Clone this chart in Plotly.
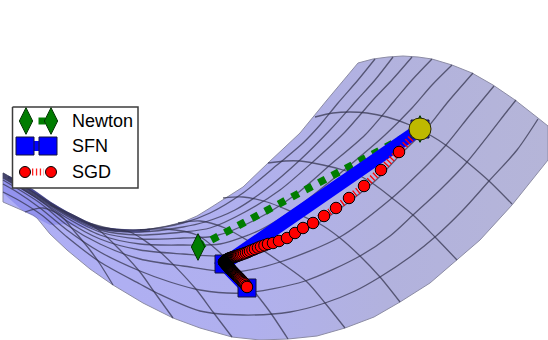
import plotly.graph_objects as go

# everything, in picture pixels
outline_x = [358, 373, 388, 403, 418, 432, 452, 472, 493, 515, 538, 548, 548, 530, 512, 480, 457, 430, 400, 374, 345, 317, 288, 260, 232, 200, 173, 143, 113, 90, 67, 50, 37, 33, 3, 3, 18, 33, 50, 67, 83, 100, 116, 133, 150, 167, 183, 197, 210, 226, 243, 268, 300, 327, 358]
outline_y = [63, 59, 57, 56, 57, 59, 65, 73, 85, 100, 118, 126, 160, 183, 205, 240, 260, 283, 302, 317, 328, 336, 339, 340, 337, 328, 318, 303, 285, 269, 250, 234, 218, 215, 202, 173, 181, 190, 202, 212, 220, 227, 229, 230, 229, 226, 222, 216, 208, 198, 187, 163, 133, 100, 63]

fold_x = [3, 18, 33, 50, 67, 83, 100, 116, 133, 110, 83, 67, 50, 23, 3, 3]
fold_y = [173, 181, 190, 202, 212, 220, 227, 229, 230, 229, 228, 224, 225, 211, 193, 173]

crease_x = [8, 33, 50, 67, 83, 100, 116, 133, 150]
crease_y = [177, 191, 203, 213, 221, 228, 230, 231, 230]

long_curves = [
    ([375, 358, 338, 320, 303, 277, 243, 210, 183, 140, 100, 67, 35, 3], [59, 80, 103, 125, 143, 165, 193, 213, 223, 230, 227.5, 213, 193, 173]),
    ([393, 375, 357, 330, 300, 265, 235, 205, 183, 140, 100, 67, 35, 3], [57, 80, 100, 130, 160, 190, 210, 222, 227, 232, 228.5, 214, 194, 174]),
    ([412, 392, 373, 345, 315, 280, 245, 210, 183, 140, 100, 67, 35, 3], [57, 80, 100, 132, 160, 190, 212, 228, 232, 235, 230, 215, 195, 175]),
    ([432, 412, 395, 365, 330, 295, 255, 215, 183, 140, 100, 67, 35, 3], [59, 80, 100, 135, 165, 195, 220, 236, 238, 239, 232, 216, 196, 176]),
    ([452, 432, 412, 385, 350, 300, 260, 220, 183, 140, 100, 67, 35, 3], [65, 85, 108, 135, 165, 205, 230, 244, 245, 244, 235, 218, 197, 177]),
    ([473, 447, 428, 400, 375, 320, 265, 220, 183, 140, 100, 67, 38, 3], [73, 103, 127, 155, 181, 222, 247, 256, 254, 250, 239, 221, 199, 178]),
    ([494, 470, 446, 420, 392, 340, 280, 235, 183, 140, 100, 67, 40, 3], [86, 115, 145, 172, 198, 237, 262, 272, 266, 259, 244, 225, 203, 180]),
    ([516, 508, 467, 440, 413, 390, 360, 305, 243, 200, 170, 140, 100, 67, 40, 17, 3], [100, 110, 162, 190, 215, 236, 256, 281, 293, 290, 282, 271, 252, 230, 208, 192, 184]),
    ([538, 517, 489, 463, 435, 410, 380, 355, 325, 290, 243, 200, 157, 140, 100, 67, 43, 20, 3], [119, 150, 181, 210, 237, 257, 277, 291, 303, 312, 315, 311, 293, 284, 262, 237, 216, 201, 192]),
]

cross_curves = [
    ([315, 333, 350, 367, 387, 410, 430, 447, 467, 489, 512], [117, 113, 112, 113, 117, 125, 135, 146, 162, 181, 204]),
    ([268, 285, 300, 323, 343, 360, 375, 392, 413, 435, 457], [163, 161, 161, 165, 170, 176, 185, 198, 215, 237, 260]),
    ([223, 243, 267, 290, 320, 340, 360, 380, 400], [198, 197, 202, 211, 224, 238, 256, 277, 302]),
    ([178, 200, 225, 250, 280, 307, 325, 345], [223, 221, 228, 242, 262, 282, 303, 328]),
    ([140, 165, 197, 217, 237, 257, 270, 288], [230, 229, 235, 250, 271, 295, 312, 339]),
    ([88, 112, 130, 160, 195, 213, 232], [223, 229, 232, 252, 288, 312, 337]),
    ([50, 75, 100, 120, 140, 155, 173], [205, 216, 231, 250, 272, 293, 318]),
    ([25, 43, 60, 75, 90, 100, 113], [212, 208, 215, 232, 250, 264, 285]),
]

newton_x = [198, 420]
newton_y = [247, 129]
sfn_x = [247, 224, 420]
sfn_y = [288, 264, 129]

sgd_arc_x = [224, 224.7, 225.4, 226, 226.7, 227.4, 228.1, 228.9, 229.7, 230.5, 231.3, 232.2, 233.1, 234, 235, 236, 237, 238.2, 239.5, 241, 242.5, 244.2, 246, 248, 250, 252.5, 255, 258, 261, 264.5, 268, 273, 279, 287, 295, 303, 313, 324, 336, 349, 364, 381, 399, 420]
sgd_arc_y = [262, 261.4, 260.8, 260.3, 259.8, 259.3, 258.9, 258.6, 258.3, 258, 257.7, 257.4, 257.1, 256.8, 256.5, 256.2, 255.9, 255.5, 255, 254.5, 254, 253.4, 252.7, 252, 251, 250, 249, 247.7, 246.5, 245.3, 244, 243, 241, 238, 233, 228, 223, 216, 208, 198, 186, 170, 152, 129]
sgd_leg_x = [224, 224.6, 225.2, 225.8, 226.4, 227, 227.6, 228.2, 228.8, 229.4, 230, 230.6, 231.2, 231.8, 232.4, 233, 233.6, 234.2, 234.8, 235.4, 236, 236.6, 237.2, 237.8, 238.4, 239, 239.7, 240.5, 241.3, 242.2, 243.1, 244.1, 245.2, 246.3, 247]
sgd_leg_y = [262, 262.7, 263.4, 264.1, 264.7, 265.4, 266, 266.7, 267.3, 268, 268.6, 269.3, 270, 270.6, 271.2, 271.9, 272.5, 273.1, 273.7, 274.3, 274.9, 275.5, 276.1, 276.7, 277.3, 277.9, 278.6, 279.4, 280.2, 281.2, 282.1, 283.2, 284.4, 285.9, 287]

legend_labels = ["Newton", "SFN", "SGD"]
legend_label_y = [121, 146, 172]
legend_box_x = [12.5, 138, 138, 12.5, 12.5]
legend_box_y = [107, 107, 188, 188, 107]


# marker fill goes from black at the elbow to full red, overlapping edges hide the rest
def fade(n, dark, ramp):
    cols = []
    for i in range(n):
        k = min(255, max(0, int(255 * (i - dark) / ramp)))
        cols.append("rgb(%d,0,0)" % k)
    return cols


fig = go.Figure()

fig.add_trace(go.Scatter(
    x=outline_x, y=outline_y, mode="lines", fill="toself",
    fillgradient=dict(type="horizontal", colorscale=[
        [0, "rgb(174,174,246)"], [0.45, "rgb(176,176,238)"], [0.7, "rgb(178,178,222)"], [1, "rgb(181,181,216)"]]),
    line=dict(color="rgb(140,140,165)", width=1)))
fig.add_trace(go.Scatter(
    x=fold_x, y=fold_y, mode="lines", fill="toself",
    fillcolor="rgba(90,90,225,0.32)", line=dict(width=0)))
fig.add_trace(go.Scatter(
    x=crease_x, y=crease_y, mode="lines",
    line=dict(color="rgba(30,30,120,0.6)", width=3, shape="spline")))

for cx, cy in long_curves + cross_curves:
    fig.add_trace(go.Scatter(
        x=cx, y=cy, mode="lines",
        line=dict(color="rgba(50,50,75,0.72)", width=1.3, shape="spline", smoothing=0.8)))

# finish marks first, the yellow one covers them
fig.add_trace(go.Scatter(
    x=newton_x, y=newton_y, mode="lines",
    line=dict(color="rgb(0,125,0)", width=7.5, dash="7.5px,7.7px")))
fig.add_trace(go.Scatter(
    x=sfn_x, y=sfn_y, mode="lines",
    line=dict(color="rgb(0,0,255)", width=13)))
fig.add_trace(go.Scatter(
    x=sfn_x, y=sfn_y, mode="markers",
    marker=dict(symbol="square", size=18, color="rgb(0,0,255)", line=dict(color="rgb(20,20,60)", width=1))))
fig.add_trace(go.Scatter(
    x=newton_x, y=newton_y, mode="markers",
    marker=dict(symbol="diamond-tall", size=19, color="rgb(0,125,0)", line=dict(color="rgb(0,50,0)", width=1))))
fig.add_trace(go.Scatter(
    x=sgd_arc_x, y=sgd_arc_y, mode="lines",
    line=dict(color="rgb(255,0,0)", width=7, dash="1.3px,2.6px")))
fig.add_trace(go.Scatter(
    x=sgd_arc_x, y=sgd_arc_y, mode="markers",
    marker=dict(symbol="circle", size=11.5, color=fade(len(sgd_arc_x), 8, 12), line=dict(color="black", width=1))))
fig.add_trace(go.Scatter(
    x=sgd_leg_x, y=sgd_leg_y, mode="markers",
    marker=dict(symbol="circle", size=11.5, color=fade(len(sgd_leg_x), 12, 20), line=dict(color="black", width=1))))
fig.add_trace(go.Scatter(
    x=[420], y=[129], mode="markers",
    marker=dict(symbol="circle", size=22, color="rgb(190,185,0)", line=dict(color="rgb(40,40,0)", width=1))))

# legend box drawn by hand, plotly has no two marker sample
fig.add_trace(go.Scatter(
    x=legend_box_x, y=legend_box_y, mode="lines", fill="toself", fillcolor="white",
    line=dict(color="rgb(60,60,60)", width=1.5)))
fig.add_trace(go.Scatter(
    x=[42], y=[121], mode="markers", marker=dict(symbol="square", size=7, color="rgb(0,125,0)", line=dict(width=0))))
fig.add_trace(go.Scatter(
    x=[25, 48], y=[146, 146], mode="lines", line=dict(color="rgb(0,0,255)", width=10)))
fig.add_trace(go.Scatter(
    x=[32, 44], y=[172, 172], mode="lines",
    line=dict(color="rgb(255,30,30)", width=7, dash="1.3px,2.6px")))
fig.add_trace(go.Scatter(
    x=[26, 51], y=[121, 121], mode="markers",
    marker=dict(symbol="diamond-tall", size=19, color="rgb(0,125,0)", line=dict(color="rgb(0,50,0)", width=1))))
fig.add_trace(go.Scatter(
    x=[25, 48], y=[146, 146], mode="markers",
    marker=dict(symbol="square", size=18, color="rgb(0,0,255)", line=dict(color="rgb(20,20,60)", width=1))))
fig.add_trace(go.Scatter(
    x=[25, 51], y=[172, 172], mode="markers",
    marker=dict(symbol="circle", size=11, color="rgb(255,0,0)", line=dict(color="black", width=1))))

for label, ly in zip(legend_labels, legend_label_y):
    fig.add_annotation(x=70, y=ly, text=label, showarrow=False, xanchor="left", yanchor="middle",
                       font=dict(family="Liberation Sans", size=18, color="black"))

fig.update_layout(
    width=548, height=340, autosize=False, showlegend=False,
    margin=dict(l=0, r=0, t=0, b=0),
    paper_bgcolor="white", plot_bgcolor="white",
    xaxis=dict(range=[0, 548], visible=False, fixedrange=True),
    yaxis=dict(range=[340, 0], visible=False, fixedrange=True),
)
fig.write_html("out.html", config=dict(displayModeBar=False),
               post_script="document.body.style.margin='0';document.body.style.overflow='hidden';")
